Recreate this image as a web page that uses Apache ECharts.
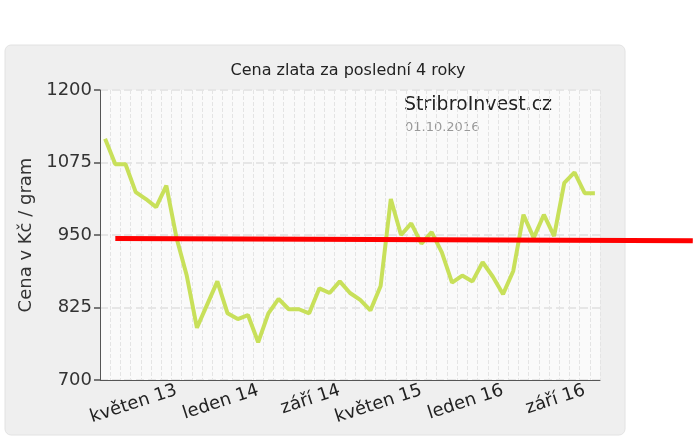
<!DOCTYPE html><html><head><meta charset="utf-8"><script src="https://cdn.jsdelivr.net/npm/echarts@6/dist/echarts.min.js"></script></head><body style="margin:0;background:#fff"><div id="c" style="width:693px;height:440px"></div><script>
const monthNames=['leden','únor','březen','duben','květen','červen','červenec','srpen','září','říjen','listopad','prosinec'];
const categories=[];for(let i=0;i<49;i++){const m=(9+i)%12,y=12+Math.floor((9+i)/12);categories.push(monthNames[m]+' '+y);}
const prices=[1116,1072,1072,1024,1012,998,1035,945,880,790,830,870,815,805,812,765,815,840,822,822,815,858,850,870,850,838,820,862,1012,950,970,935,955,920,868,880,870,903,878,848,888,985,945,985,948,1040,1058,1022,1022];
const trend=[[1,944],[57.6,940]];
const show=(i)=>i>=7&&(i-7)%8===0;
const ch=echarts.init(document.getElementById('c'));
ch.setOption({animation:false,
graphic:[{type:'rect',shape:{x:5,y:45,width:620,height:390,r:6},style:{fill:'#efefef',stroke:'#e2e2e2'},z:-10},
{type:'rect',shape:{x:100,y:90,width:500,height:290},style:{fill:'#fafafa'},z:-9},
{type:'text',left:404,top:96,style:{text:'StribroInvest.cz',font:'19px "DejaVu Sans"',fill:'#222'}},
{type:'text',left:405,top:121,style:{text:'01.10.2016',font:'13px "DejaVu Sans"',fill:'#999'}}],
title:{text:'Cena zlata za poslední 4 roky',left:343,textAlign:'center',top:58,textStyle:{fontFamily:'DejaVu Sans',fontWeight:'normal',fontSize:16,color:'#222'}},
grid:[{left:100,top:90,width:500,height:290},{left:100,top:90,width:593,height:290}],
xAxis:[{type:'category',data:categories,boundaryGap:['1%','1%'],
axisLine:{lineStyle:{color:'#555'}},axisTick:{interval:(i)=>show(i),lineStyle:{color:'#555'}},
axisLabel:{interval:(i)=>show(i),rotate:18,fontFamily:'DejaVu Sans',fontSize:18,color:'#222',margin:10},
splitLine:{show:true,interval:0,lineStyle:{color:'#e4e4e4',type:'dashed'}}},
{type:'value',gridIndex:1,min:-0.5,max:57.62,show:false}],
yAxis:[{type:'value',min:700,max:1200,interval:125,
name:'Cena v Kč / gram',nameLocation:'middle',nameGap:62,nameTextStyle:{fontFamily:'DejaVu Sans',fontSize:18,color:'#333'},
axisLine:{show:true,lineStyle:{color:'#555'}},axisTick:{show:true,length:6,lineStyle:{color:'#777',width:2}},
axisLabel:{fontFamily:'DejaVu Sans',fontSize:18,color:'#333',formatter:(v)=>String(v)},
splitLine:{lineStyle:{color:'#e6e6e6',type:'dashed',width:2}}},
{type:'value',gridIndex:1,min:700,max:1200,show:false}],
series:[{type:'line',data:prices,symbol:'none',lineStyle:{color:'#c8e05a',width:4}},
{type:'line',xAxisIndex:1,yAxisIndex:1,data:trend,symbol:'none',lineStyle:{color:'#ff0000',width:5},z:3}]});
</script></body></html>
